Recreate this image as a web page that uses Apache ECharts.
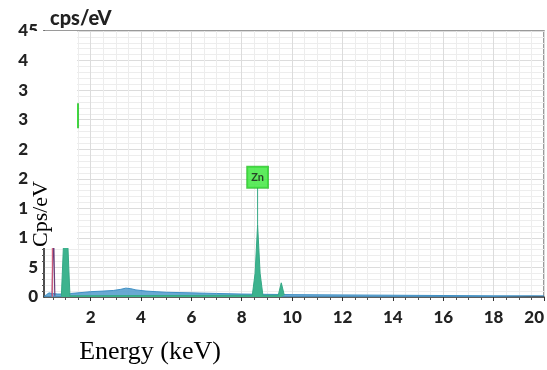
<!DOCTYPE html>
<html>
<head>
<meta charset="utf-8">
<script src="https://cdn.jsdelivr.net/npm/echarts@6/dist/echarts.min.js"></script>
<style>
  html, body { margin: 0; padding: 0; background: #ffffff; }
  #chart { width: 547px; height: 370px; }
</style>
</head>
<body>
<div id="chart"></div>
<script>
// EDS spectrum: energy (keV) vs counts per eV
const xTicks = [2, 4, 6, 8, 10, 12, 14, 16, 18, 20];
const yTicks = [0, 5, 10, 15, 20, 25, 30, 35, 40, 45];

// Measured continuum [keV, cps/eV]
const continuum = [
  [0.15, 0.1], [0.25, 0.4], [0.35, 0.7], [0.45, 0.6], [0.7, 0.5], [0.9, 0.5],
  [1.2, 0.6], [1.5, 0.7], [2.0, 0.9], [2.5, 1.0], [2.9, 1.1], [3.2, 1.3],
  [3.4, 1.5], [3.6, 1.4], [3.8, 1.2], [4.2, 1.0], [4.6, 0.9], [5.0, 0.8],
  [6.0, 0.7], [7.0, 0.6], [8.0, 0.5], [9.0, 0.45], [10.0, 0.4], [12.0, 0.35],
  [14.0, 0.3], [16.0, 0.25], [18.0, 0.2], [20.0, 0.2]
];

// Zn L, K-alpha and K-beta lines
const znPeaks = [
  [0.84, 0.2], [0.93, 9.5], [1.01, 27.0], [1.09, 9.5], [1.18, 0.2],
  [8.42, 0.3], [8.53, 4.0], [8.63, 12.2], [8.73, 4.0], [8.84, 0.3],
  [9.45, 0.3], [9.57, 2.4], [9.69, 0.3]
];

// O K line
const oPeak = [[0.47, 0.2], [0.525, 12.0], [0.58, 0.2]];

// Element markers: [keV, peak top, label height]
const markerZnL = [1.01, 27.0, 28.7];
const markerZnK = [8.63, 12.2, 18.5];
const markerO = [0.48, 0.0, 30.0];

const chart = echarts.init(document.getElementById('chart'), null, { renderer: 'canvas' });

const labelFont = { fontFamily: 'Lato', fontWeight: 900, fontSize: 17, color: '#222222' };

chart.setOption({
  animation: false,
  backgroundColor: '#ffffff',
  grid: {
    left: 44, right: 3, top: 31, bottom: 73,
    show: true, borderColor: '#7a7a7a', borderWidth: 1.5, backgroundColor: 'transparent'
  },
  xAxis: {
    type: 'value',
    min: 0.15, max: 20, splitNumber: 10,
    axisLine: { show: true, onZero: false, lineStyle: { color: '#333333', width: 1.5 } },
    axisTick: { show: true, length: 4, lineStyle: { color: '#333333' }, customValues: xTicks },
    minorTick: { show: true, splitNumber: 4, length: 3, lineStyle: { color: '#555555' } },
    axisLabel: Object.assign({ margin: 12, customValues: xTicks, alignMaxLabel: 'right' }, labelFont),
    splitLine: { show: true, lineStyle: { color: '#dcdcdc', width: 1 } },
    minorSplitLine: { show: true, lineStyle: { color: '#ededed', width: 1 } }
  },
  yAxis: {
    type: 'value',
    min: 0, max: 45, interval: 5,
    name: 'cps/eV',
    nameLocation: 'end',
    nameGap: 2,
    nameTextStyle: { fontFamily: 'Lato', fontWeight: 900, fontSize: 20, color: '#222222', align: 'left', padding: [0, 0, 0, 6] },
    axisLine: { show: true, lineStyle: { color: '#333333', width: 1.5 } },
    axisTick: { show: false },
    minorTick: { show: true, splitNumber: 5, length: 2, lineStyle: { color: '#555555' } },
    axisLabel: Object.assign({ margin: 6, padding: [4, 0, 0, 0] }, labelFont),
    splitLine: { show: true, lineStyle: { color: '#dcdcdc', width: 1 } },
    minorSplitLine: { show: true, lineStyle: { color: '#ededed', width: 1 } }
  },
  series: [
    {
      name: 'Spectrum', type: 'line', data: continuum, symbol: 'none',
      lineStyle: { color: '#3f8fc4', width: 1 },
      areaStyle: { color: '#4f9acb', opacity: 0.85 }, z: 2
    },
    {
      name: 'O', type: 'line', data: oPeak, symbol: 'none',
      lineStyle: { color: '#6a3d7a', width: 1.2 }, z: 3
    },
    {
      name: 'O marker', type: 'line', symbol: 'none',
      data: [[markerO[0], markerO[1]], [markerO[0], markerO[2]]],
      lineStyle: { color: '#e0607a', width: 1 }, z: 3
    },
    {
      name: 'Zn', type: 'line', data: znPeaks, symbol: 'none',
      lineStyle: { color: '#35a886', width: 1 },
      areaStyle: { color: '#3db38e', opacity: 1 }, z: 4
    },
    {
      name: 'Zn K marker', type: 'line', symbol: 'none',
      data: [[markerZnK[0], markerZnK[1]], [markerZnK[0], markerZnK[2]]],
      lineStyle: { color: '#35a886', width: 1 }, z: 4
    },
    {
      name: 'Zn L marker', type: 'line', symbol: 'none',
      data: [[markerZnL[0], markerZnL[1]], [markerZnL[0], markerZnL[2]]],
      lineStyle: { color: '#35a886', width: 1 }, z: 4
    },
    {
      name: 'Labels', type: 'scatter', symbolSize: 0, z: 5,
      data: [
        { value: [markerZnK[0], markerZnK[2]], label: { padding: [5, 4, 5, 4] } },
        { value: [markerZnL[0], markerZnL[2]], label: { padding: [6, 6, 6, 6] } }
      ],
      label: {
        show: true, position: 'top', distance: 0, formatter: 'Zn',
        fontFamily: 'Lato', fontWeight: 'bold', fontSize: 11, color: '#1a1a1a',
        backgroundColor: '#36e636', borderColor: '#22b822', borderWidth: 1
      }
    }
  ],
  graphic: [
    { type: 'rect', z: 100, shape: { x: 28, y: 31, width: 49, height: 217 }, style: { fill: '#ffffff' } },
    {
      type: 'text', z: 101, x: 41, y: 214, rotation: Math.PI / 2,
      style: { text: 'Cps/eV', font: '22px "Liberation Serif"', fill: '#000000', align: 'center', verticalAlign: 'middle' }
    },
    {
      type: 'text', z: 101, x: 150, y: 352,
      style: { text: 'Energy (keV)', font: '26px "Liberation Serif"', fill: '#000000', align: 'center', verticalAlign: 'middle' }
    }
  ]
});
</script>
</body>
</html>
